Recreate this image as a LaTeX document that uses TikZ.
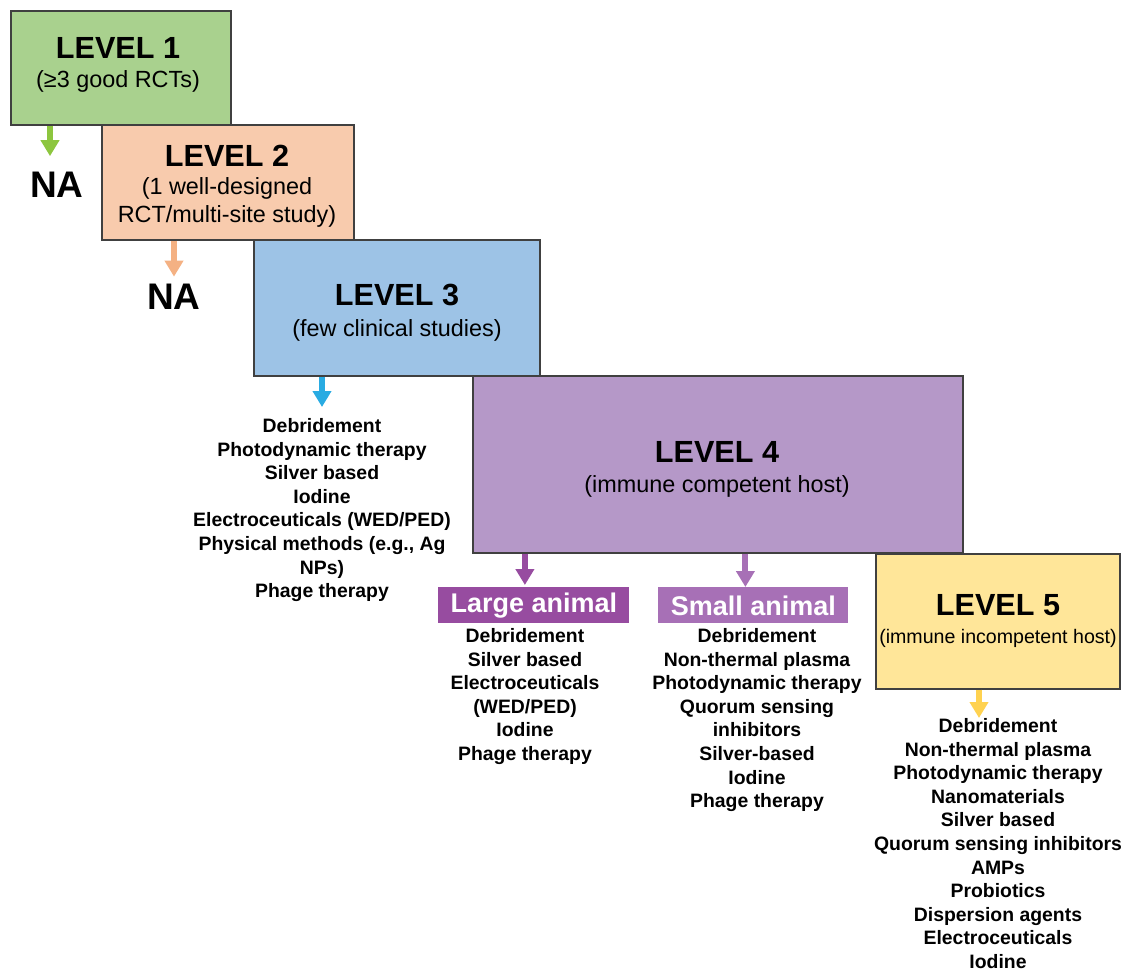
\documentclass[tikz,border=0pt]{standalone}
\usepackage{fontspec}
\setmainfont{Liberation Sans}
\usetikzlibrary{arrows.meta}

\definecolor{lvonefill}{RGB}{169,209,142}
\definecolor{lvtwofill}{RGB}{248,203,173}
\definecolor{lvthreefill}{RGB}{157,195,230}
\definecolor{lvfourfill}{RGB}{181,152,200}
\definecolor{lvfivefill}{RGB}{255,230,153}
\definecolor{lvonearrow}{RGB}{141,198,63}
\definecolor{lvtwoarrow}{RGB}{244,177,131}
\definecolor{lvthreearrow}{RGB}{41,171,226}
\definecolor{lvfivearrow}{RGB}{255,210,80}
\definecolor{largefill}{RGB}{151,76,160}
\definecolor{smallfill}{RGB}{167,112,182}
\definecolor{boxline}{RGB}{64,64,64}

\tikzset{
  levelbox/.style={draw=boxline, line width=0.75pt, anchor=north west, inner sep=0pt},
  leveltitle/.style={anchor=base, inner sep=0pt, font=\fontsize{15.3}{18}\selectfont\bfseries},
  levelsub/.style={anchor=base, inner sep=0pt, font=\fontsize{11.7}{14}\selectfont},
  animalbox/.style={anchor=north west, inner sep=0pt, text=white, minimum height=18pt,
    font=\fontsize{13.5}{16}\selectfont\bfseries},
  natext/.style={anchor=base, inner sep=0pt, font=\fontsize{18.5}{22}\selectfont\bfseries},
  methodlist/.style={anchor=north, inner sep=0pt, align=center,
    font=\fontsize{9.7}{11.8}\selectfont\bfseries},
  lvarrow/.style={line width=3pt, -{Triangle[width=9pt,length=8pt]}}
}

\begin{document}
\begin{tikzpicture}[x=0.5pt,y=-0.5pt]
\useasboundingbox (0,0) rectangle (1126,970);

%Level boxes
\node (l1) [levelbox, fill=lvonefill, minimum width=110pt, minimum height=57pt] at (10,10) {};
\node (l2) [levelbox, fill=lvtwofill, minimum width=126pt, minimum height=57.5pt] at (101,124) {};
\node (l3) [levelbox, fill=lvthreefill, minimum width=143pt, minimum height=68pt] at (253,239) {};
\node (l4) [levelbox, fill=lvfourfill, minimum width=245pt, minimum height=88.5pt] at (472,375) {};
\node (l5) [levelbox, fill=lvfivefill, minimum width=122pt, minimum height=67.5pt] at (875,553) {};

% Text Node
\node (l1title) [leveltitle] at (118,58) {LEVEL 1};
\node (l1sub) [levelsub] at (118,87) {(≥3 good RCTs)};
% Text Node
\node (l2title) [leveltitle] at (227,166) {LEVEL 2};
\node (l2suba) [levelsub] at (227,194) {(1 well-designed};
\node (l2subb) [levelsub] at (227,222) {RCT/multi-site study)};
% Text Node
\node (l3title) [leveltitle] at (397,305) {LEVEL 3};
\node (l3sub) [levelsub] at (397,336) {(few clinical studies)};
% Text Node
\node (l4title) [leveltitle] at (717,462) {LEVEL 4};
\node (l4sub) [levelsub] at (717,492) {(immune competent host)};
% Text Node
\node (l5title) [leveltitle] at (998,615) {LEVEL 5};
\node (l5sub) [levelsub, font=\fontsize{9.8}{12}\selectfont] at (998,643) {(immune incompetent host)};

% NA labels
\node (na1) [natext] at (57,197) {NA};
\node (na2) [natext] at (174,309) {NA};

% Animal model labels
\node (large) [animalbox, fill=largefill, minimum width=95.5pt] at (438,587) {Large animal};
\node (small) [animalbox, fill=smallfill, minimum width=95pt] at (658,587) {Small animal};

% Method lists
\node (l3list) [methodlist] at (322,418) {Debridement\\Photodynamic therapy\\Silver based\\Iodine\\
  Electroceuticals (WED/PED)\\Physical methods (e.g., Ag\\NPs)\\Phage therapy};
\node (largelist) [methodlist] at (525,628) {Debridement\\Silver based\\Electroceuticals\\(WED/PED)\\
  Iodine\\Phage therapy};
\node (smalllist) [methodlist] at (757,628) {Debridement\\Non-thermal plasma\\Photodynamic therapy\\
  Quorum sensing\\inhibitors\\Silver-based\\Iodine\\Phage therapy};
\node (l5list) [methodlist] at (998,718) {Debridement\\Non-thermal plasma\\Photodynamic therapy\\
  Nanomaterials\\Silver based\\Quorum sensing inhibitors\\AMPs\\Probiotics\\Dispersion agents\\
  Electroceuticals\\Iodine};

%Arrows
\draw [lvarrow, lvonearrow, shorten >=7.5pt] ([xshift=-3.5pt]na1.north |- l1.south) -- ([xshift=-3.5pt]na1.north);
\draw [lvarrow, lvtwoarrow, shorten >=3.25pt] (na2.north |- l2.south) -- (na2.north);
\draw [lvarrow, lvthreearrow, shorten >=5.5pt] (l3list.north |- l3.south) -- (l3list.north);
\draw [lvarrow, largefill, shorten >=1pt] ([xshift=-4.5pt]large.north |- l4.south) -- ([xshift=-4.5pt]large.north);
\draw [lvarrow, smallfill] ([xshift=-4pt]small.north |- l4.south) -- ([xshift=-4pt]small.north);
\draw [lvarrow, lvfivearrow] ([xshift=-9.5pt]l5list.north |- l5.south) -- ([xshift=-9.5pt]l5list.north);
\end{tikzpicture}
\end{document}
